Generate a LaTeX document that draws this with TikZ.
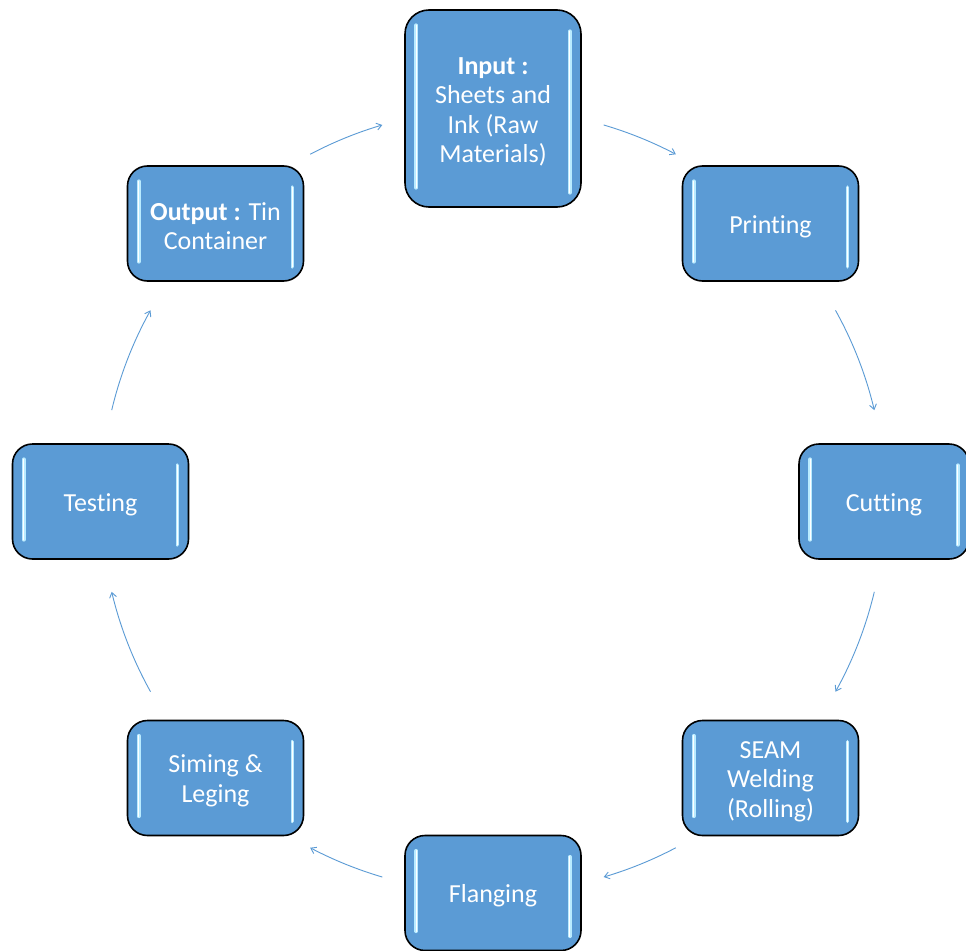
\documentclass[tikz,border=0pt]{standalone}
\usepackage{fontspec}
\setmainfont{Carlito}[Ligatures=NoCommon]
\usetikzlibrary{arrows.meta}
\definecolor{boxblue}{HTML}{5B9BD5}
\definecolor{glowc}{RGB}{185,235,255}
\definecolor{arrowc}{HTML}{5B9BD5}
\newcommand\topstrut{\rule{0pt}{23.5pt}}
\tikzset{
  stagebox/.style={draw=black, line width=1.6pt, fill=boxblue, rounded corners=20pt,
    minimum width=176pt, minimum height=115pt, align=center, text=white,
    font=\fontsize{26}{29.5}\selectfont, inner sep=0pt},
  conn/.style={draw=arrowc, line width=0.9pt, -{Straight Barb[length=5pt,width=7pt]}},
  glow/.style={line cap=round, draw=glowc, line width=3.6pt},
  glowcore/.style={line cap=round, draw=white, line width=1.3pt}
}
\newcommand\boxglow[1]{%
  \draw[glow] ([xshift=12pt,yshift=-16pt]#1.north west) -- ([xshift=12pt,yshift=20pt]#1.south west);
  \draw[glowcore] ([xshift=12pt,yshift=-16pt]#1.north west) -- ([xshift=12pt,yshift=20pt]#1.south west);
  \draw[glow] ([xshift=-12pt,yshift=-22pt]#1.north east) -- ([xshift=-12pt,yshift=15pt]#1.south east);
  \draw[glowcore] ([xshift=-12pt,yshift=-22pt]#1.north east) -- ([xshift=-12pt,yshift=15pt]#1.south east);
}
\begin{document}
\begin{tikzpicture}[x=1pt,y=1pt]
\useasboundingbox[fill=white] (0,0) rectangle (966,-950);
\coordinate (C) at (493,-501);

\node[stagebox, minimum height=197pt, rounded corners=24pt] (input) at (493,-108.5)
  {\topstrut\textbf{Input :}\\Sheets and\\Ink (Raw\\Materials)};
\node[stagebox] (printing) at (770.5,-223.5) {\topstrut Printing};
\node[stagebox, minimum width=170pt] (cutting) at (884,-501.5) {\topstrut Cutting};
\node[stagebox] (seam) at (770.5,-778) {\topstrut SEAM\\Welding\\(Rolling)};
\node[stagebox] (flanging) at (493,-893) {\topstrut Flanging};
\node[stagebox] (siming) at (215.5,-778) {\topstrut Siming \&\\Leging};
\node[stagebox] (testing) at (100.5,-501.5) {\topstrut Testing};
\node[stagebox] (output) at (215.5,-223.5) {\topstrut\textbf{Output :} Tin\\Container};

\boxglow{input}
\boxglow{printing}
\boxglow{cutting}
\boxglow{seam}
\boxglow{flanging}
\boxglow{siming}
\boxglow{testing}
\boxglow{output}

\coordinate (a1) at ([shift={(117.8:392pt)}]C);
\coordinate (a2) at ([shift={(73.6:392pt)}]C);
\coordinate (a3) at ([shift={(29.1:392pt)}]C);
\coordinate (a4) at ([shift={(-13.4:392pt)}]C);
\coordinate (a5) at ([shift={(-62.2:392pt)}]C);
\coordinate (a6) at ([shift={(-106.4:392pt)}]C);
\coordinate (a7) at ([shift={(-150.9:392pt)}]C);
\coordinate (a8) at ([shift={(166.6:392pt)}]C);

\draw[conn] (a1) arc[start angle=117.8, end angle=106.4, radius=392pt];
\draw[conn] (a2) arc[start angle=73.6, end angle=62.2, radius=392pt];
\draw[conn] (a3) arc[start angle=29.1, end angle=13.4, radius=392pt];
\draw[conn] (a4) arc[start angle=-13.4, end angle=-29.1, radius=392pt];
\draw[conn] (a5) arc[start angle=-62.2, end angle=-73.6, radius=392pt];
\draw[conn] (a6) arc[start angle=-106.4, end angle=-117.8, radius=392pt];
\draw[conn] (a7) arc[start angle=-150.9, end angle=-166.6, radius=392pt];
\draw[conn] (a8) arc[start angle=166.6, end angle=150.9, radius=392pt];
\end{tikzpicture}
\end{document}
